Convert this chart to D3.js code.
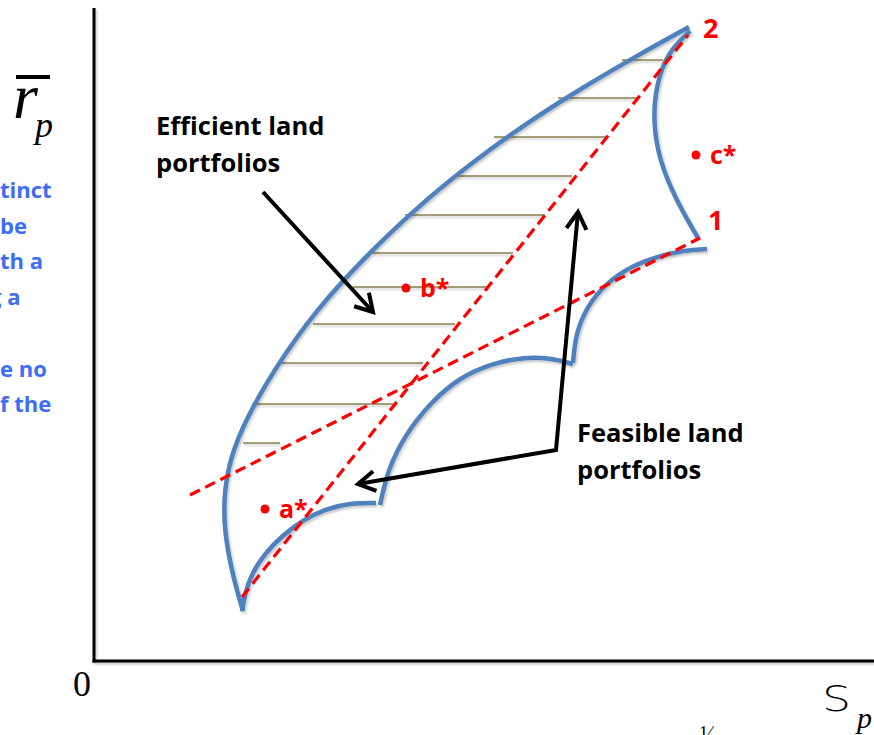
<!DOCTYPE html>
<html>
<head>
<meta charset="utf-8">
<script src="https://cdn.jsdelivr.net/npm/d3@7"></script>
<style>
  html, body { margin: 0; padding: 0; background: #fff; overflow: hidden; }
  svg { display: block; }
</style>
</head>
<body>
<svg id="chart" width="874" height="735"></svg>
<script>
// Risk (S_p) on the horizontal axis, expected return (r̄_p) on the vertical axis.
// All coordinates below are in chart units measured from the origin.

// Upper efficient frontier of land portfolios (from the low-risk tip up to point 2)
const efficientFrontier = [
  [148, 50], [138, 84], [129, 130], [129, 170], [136, 205],
  [150, 240], [178, 290], [220, 350], [268, 402], [320, 452],
  [375, 497], [430, 537], [490, 575], [545, 607], [594, 634]
];
// Concave arc between point 2 and point 1
const arc21 = [[595, 630], [572, 608], [561, 575], [558, 541], [564, 501], [581, 461], [603, 423]];
// Lower feasible arcs
const arcRight = [[612, 412], [590, 411], [560, 404], [530, 392], [505, 372], [488, 347], [480, 322], [478, 298]];
const arcMiddle = [[478, 297], [455, 303], [430, 304], [398, 298], [365, 284], [335, 258], [310, 226], [293, 192], [285, 156]];
const arcLeft = [[281, 158], [255, 158], [230, 152], [208, 141], [188, 126], [170, 108], [157, 88], [150, 68], [147, 50]];

// Dashed combination lines
const lineSteep = [[147, 64], [593, 626]];
const lineFlat = [[95, 166], [605, 423]];

// Hatching between the frontier and the steep line
const hatchLevels = [601, 563, 524, 485, 446, 408, 374, 337, 298, 257, 218];
const hatchFrom   = [527, 463, 399, 360, 310, 278, 258, 218, 187, 158, 148];
const hatchTo     = [568, 543, 512, 477, 450, 418, 393, 360, 328, 302, 185];

// Named portfolios
const portfolioNames = ["a*", "b*", "c*"];
const portfolioRisk = [170, 311, 601];
const portfolioReturn = [152, 373, 506];

// Single-asset corner points
const cornerNames = ["1", "2"];
const cornerRisk = [613, 608];
const cornerReturn = [431, 623];

// Callout arrows
const efficientArrow = [[168, 469], [278, 349]];
const feasibleArrow = [[483, 449], [461, 211], [263, 177]];

// Axis extent
const xMax = 779, yMax = 653;

// Side note (only the trailing parts of each line fall inside the frame)
const noteLines = ["tinct", "be", "th a", "g a", "", "e no", "f the"];
const noteOffsets = [0, 0, 0, -11, 0, 0, 0];

const svg = d3.select("#chart");
const x = d3.scaleLinear().domain([0, 779]).range([95, 874]);
const y = d3.scaleLinear().domain([0, 661]).range([661, 0]);

const BLUE = "#4f81bd", RED = "#ff0000", OLIVE = "#8a7f4a";
const sansBold = "'Open Sans', Lato, sans-serif";
const serif = "'Liberation Serif', 'DejaVu Serif', serif";

const defs = svg.append("defs");
defs.append("filter").attr("id", "soft").attr("x", "-5%").attr("y", "-5%").attr("width", "110%").attr("height", "110%")
  .append("feDropShadow").attr("dx", 1.5).attr("dy", 2).attr("stdDeviation", 1.2)
  .attr("flood-color", "#000").attr("flood-opacity", 0.22);

defs.append("marker")
  .attr("id", "chev")
  .attr("viewBox", "0 0 26 26")
  .attr("markerUnits", "userSpaceOnUse")
  .attr("markerWidth", 26).attr("markerHeight", 26)
  .attr("refX", 22).attr("refY", 13)
  .attr("orient", "auto-start-reverse")
  .append("path")
  .attr("d", "M5,3 L22,13 L5,23")
  .attr("fill", "none").attr("stroke", "#000").attr("stroke-width", 4)
  .attr("stroke-linejoin", "miter");

const line = d3.line().x(d => x(d[0])).y(d => y(d[1]));
const smooth = d3.line().x(d => x(d[0])).y(d => y(d[1])).curve(d3.curveBasis);

// Axes
const axes = svg.append("g").attr("filter", "url(#soft)");
axes.append("line").attr("x1", x(-1)).attr("x2", x(-1)).attr("y1", y(yMax)).attr("y2", y(0) + 1.5)
  .attr("stroke", "#000").attr("stroke-width", 3);
axes.append("line").attr("x1", x(-1) - 1.5).attr("x2", x(xMax)).attr("y1", y(0)).attr("y2", y(0))
  .attr("stroke", "#000").attr("stroke-width", 3);

// Hatching
svg.append("g").attr("filter", "url(#soft)")
  .selectAll("line").data(hatchLevels).join("line")
  .attr("x1", (d, i) => x(hatchFrom[i])).attr("x2", (d, i) => x(hatchTo[i]))
  .attr("y1", d => y(d)).attr("y2", d => y(d))
  .attr("stroke", OLIVE).attr("stroke-width", 1.5);

// Feasible set boundaries
const curves = svg.append("g").attr("filter", "url(#soft)");
[efficientFrontier, arc21, arcRight, arcMiddle, arcLeft].forEach(pts => {
  curves.append("path").attr("d", smooth(pts))
    .attr("fill", "none").attr("stroke", BLUE).attr("stroke-width", 4.5);
});

// Dashed lines
[lineSteep, lineFlat].forEach(pts => {
  svg.append("path").attr("d", line(pts))
    .attr("fill", "none").attr("stroke", RED).attr("stroke-width", 3.2)
    .attr("stroke-dasharray", "11,6");
});

// Arrows
svg.append("path").attr("d", line(efficientArrow))
  .attr("fill", "none").attr("stroke", "#000").attr("stroke-width", 4)
  .attr("marker-end", "url(#chev)");
svg.append("path").attr("d", line(feasibleArrow))
  .attr("fill", "none").attr("stroke", "#000").attr("stroke-width", 4)
  .attr("stroke-linejoin", "miter")
  .attr("marker-start", "url(#chev)").attr("marker-end", "url(#chev)");

// Portfolio dots and labels
const pts = svg.append("g");
portfolioNames.forEach((name, i) => {
  pts.append("circle").attr("cx", x(portfolioRisk[i])).attr("cy", y(portfolioReturn[i])).attr("r", 4.5).attr("fill", RED);
  pts.append("text").attr("x", x(portfolioRisk[i]) + 14).attr("y", y(portfolioReturn[i]) + 9)
    .attr("font-family", sansBold).attr("font-weight", "bold").attr("font-size", 25)
    .attr("fill", RED).text(name);
});
cornerNames.forEach((name, i) => {
  pts.append("text").attr("x", x(cornerRisk[i])).attr("y", y(cornerReturn[i]))
    .attr("font-family", sansBold).attr("font-weight", "bold").attr("font-size", 27)
    .attr("fill", RED).text(name);
});

// Callout texts
const callout = (lines, x0, y0) => {
  const t = svg.append("text").attr("font-family", sansBold).attr("font-weight", "bold")
    .attr("font-size", 25.5).attr("fill", "#000");
  lines.forEach((s, i) => t.append("tspan").attr("x", x0).attr("y", y0 + i * 37).text(s));
};
callout(["Efficient land", "portfolios"], 156, 135);
callout(["Feasible land", "portfolios"], 577, 442);

// Side note
const note = svg.append("text").attr("font-family", sansBold).attr("font-weight", "bold")
  .attr("font-size", 22).attr("fill", "#3d6df2");
noteLines.forEach((s, i) => note.append("tspan").attr("x", noteOffsets[i]).attr("y", 198 + i * 35.7).text(s));

// Axis titles
svg.append("text").attr("x", 73).attr("y", 696).attr("font-family", serif).attr("font-size", 36).text("0");
svg.append("line").attr("x1", 16).attr("x2", 50).attr("y1", 77).attr("y2", 77).attr("stroke", "#000").attr("stroke-width", 4);
svg.append("text").attr("x", 13).attr("y", 118).attr("font-family", serif).attr("font-style", "italic")
  .attr("font-size", 64).text("r");
svg.append("text").attr("x", 35).attr("y", 137).attr("font-family", serif).attr("font-style", "italic")
  .attr("font-size", 36).text("p");
svg.append("text").attr("x", 822).attr("y", 711).attr("font-family", "'DejaVu Sans', sans-serif").attr("font-weight", 200)
  .attr("font-size", 35).attr("textLength", 29).attr("lengthAdjust", "spacingAndGlyphs").text("S");
svg.append("text").attr("x", 857).attr("y", 728).attr("font-family", serif).attr("font-style", "italic")
  .attr("font-size", 30).text("p");
svg.append("text").attr("x", 699).attr("y", 739).attr("font-family", serif)
  .attr("font-size", 18).text("1⁄");
</script>
</body>
</html>
